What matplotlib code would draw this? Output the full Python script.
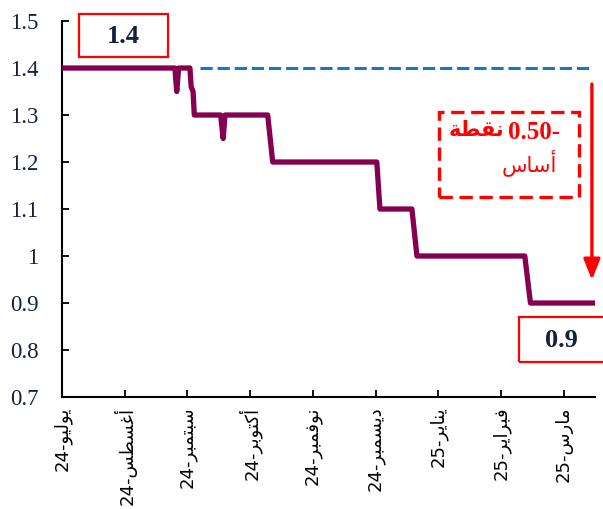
import matplotlib.pyplot as plt
from matplotlib.patches import Rectangle
import numpy as np

# policy rate path, x in months from July 2024 (0 = Jul-24, 8 = Mar-25)
t = np.array([0, 1.80, 1.83, 1.86, 2.04, 2.06, 2.09, 2.11, 2.53, 2.57, 2.60,
              3.28, 3.36, 5.02, 5.07, 5.58, 5.66, 7.38, 7.47, 8.50])
rate = np.array([1.40, 1.40, 1.35, 1.40, 1.40, 1.36, 1.35, 1.30, 1.30, 1.25, 1.30,
                 1.30, 1.20, 1.20, 1.10, 1.10, 1.00, 1.00, 0.90, 0.90])

# flat reference at the starting level
ref_t = [2.20, 8.41]
ref_rate = [1.40, 1.40]

start_val = 1.4
end_val = 0.9
change_bp = '0.50-'

months = ['يوليو', 'أغسطس', 'سبتمبر', 'أكتوبر', 'نوفمبر', 'ديسمبر', 'يناير', 'فبراير', 'مارس']
years = ['24', '24', '24', '24', '24', '24', '25', '25', '25']

# arabic letters -> (isolated, final, initial, medial) presentation forms
FORMS = {
    'ا': ('\ufe8d', '\ufe8e', None, None),
    'أ': ('\ufe83', '\ufe84', None, None),
    'ب': ('\ufe8f', '\ufe90', '\ufe91', '\ufe92'),
    'ة': ('\ufe93', '\ufe94', None, None),
    'ت': ('\ufe95', '\ufe96', '\ufe97', '\ufe98'),
    'د': ('\ufea9', '\ufeaa', None, None),
    'ر': ('\ufead', '\ufeae', None, None),
    'س': ('\ufeb1', '\ufeb2', '\ufeb3', '\ufeb4'),
    'ط': ('\ufec1', '\ufec2', '\ufec3', '\ufec4'),
    'غ': ('\ufecd', '\ufece', '\ufecf', '\ufed0'),
    'ف': ('\ufed1', '\ufed2', '\ufed3', '\ufed4'),
    'ق': ('\ufed5', '\ufed6', '\ufed7', '\ufed8'),
    'ك': ('\ufed9', '\ufeda', '\ufedb', '\ufedc'),
    'ل': ('\ufedd', '\ufede', '\ufedf', '\ufee0'),
    'م': ('\ufee1', '\ufee2', '\ufee3', '\ufee4'),
    'ن': ('\ufee5', '\ufee6', '\ufee7', '\ufee8'),
    'و': ('\ufeed', '\ufeee', None, None),
    'ي': ('\ufef1', '\ufef2', '\ufef3', '\ufef4'),
}


def shape(word):
    # join letters and return them in visual (left-to-right) order
    out = []
    for i, ch in enumerate(word):
        prev = word[i - 1] if i > 0 else ''
        nxt = word[i + 1] if i + 1 < len(word) else ''
        iso, fin, ini, med = FORMS[ch]
        join_prev = prev in FORMS and FORMS[prev][2] is not None
        join_next = ini is not None and nxt in FORMS
        if join_prev and join_next:
            out.append(med)
        elif join_prev:
            out.append(fin)
        elif join_next:
            out.append(ini)
        else:
            out.append(iso)
    return ''.join(reversed(out))


navy = '#14213d'
serif = ['Liberation Serif', 'DejaVu Sans']

fig = plt.figure(figsize=(6.03, 5.09), dpi=100)
ax = fig.add_axes([0.1028, 0.22, 0.8840, 0.7387])

ax.plot(t, rate, color='#850050', lw=3.8, solid_joinstyle='round', solid_capstyle='butt', zorder=3)
ax.plot(ref_t, ref_rate, color='#1874cd', lw=2.2, dashes=(4, 1.6), zorder=2)

ax.set_xlim(0, 8.5)
ax.set_ylim(0.7, 1.5)
yt = np.arange(0.7, 1.51, 0.1)
ax.set_yticks(yt)
ax.set_yticklabels([f'{v:g}' for v in np.round(yt, 1)], family=serif, fontsize=16.5, color=navy)
ax.set_xticks(range(len(months)))
ax.set_xticklabels([y + '-' + shape(m) for m, y in zip(months, years)],
                   rotation=90, family='DejaVu Sans', fontsize=13, va='top')

ax.tick_params(axis='y', direction='in', length=5, width=1.3, pad=17)
ax.tick_params(axis='x', direction='in', length=5, width=1.3, pad=7)
for s in ['top', 'right']:
    ax.spines[s].set_visible(False)
for s in ['left', 'bottom']:
    ax.spines[s].set_linewidth(1.5)

# starting level box
ax.add_patch(Rectangle((0.27, 1.423), 1.42, 0.092, fill=False, ec='red', lw=1.6, clip_on=False))
ax.text(0.98, 1.467, f'{start_val:g}', ha='center', va='center', fontsize=19,
        fontweight='bold', color=navy, family=serif)

# end level box
ax.add_patch(Rectangle((7.28, 0.774), 1.4, 0.096, fill=False, ec='red', lw=1.6, clip_on=False))
ax.text(7.97, 0.820, f'{end_val:g}', ha='center', va='center', fontsize=19,
        fontweight='bold', color=navy, family=serif, clip_on=False)

# cumulative change
ax.add_patch(Rectangle((6.01, 1.126), 2.24, 0.18, fill=False, ec='red', lw=2.4,
                       ls=(0, (4, 2)), clip_on=False))
ax.text(7.94, 1.263, change_bp, ha='right', va='center', fontsize=18,
        fontweight='bold', color='red', family='Liberation Serif')
ax.text(7.06, 1.268, shape('نقطة'), ha='right', va='center', fontsize=15,
        fontweight='bold', color='red', family='DejaVu Sans')
ax.text(7.90, 1.198, shape('أساس'), ha='right', va='center', fontsize=15,
        color='red', family='DejaVu Sans')
ax.annotate('', xy=(8.45, 0.949), xytext=(8.45, 1.366),
            arrowprops=dict(arrowstyle='-|>,head_length=1.25,head_width=0.5',
                            mutation_scale=10, color='red', lw=2.4, shrinkA=0, shrinkB=0),
            annotation_clip=False)

fig.savefig('out.png', dpi=100)
